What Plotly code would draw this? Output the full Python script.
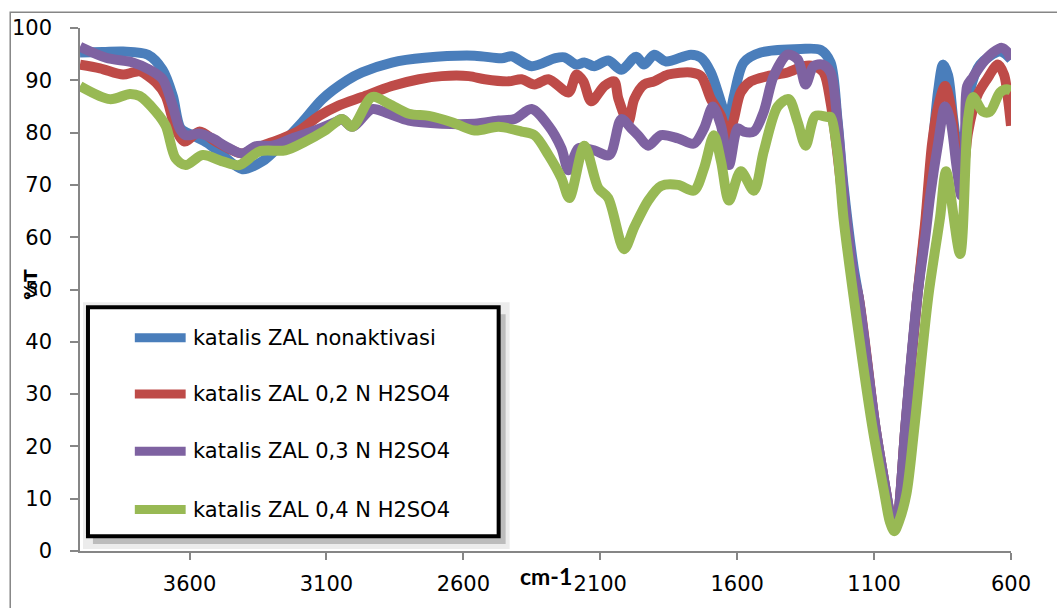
import plotly.graph_objects as go

# ---------------- data (wavenumber cm-1, %T) ----------------
series_names = [
    "katalis ZAL nonaktivasi",
    "katalis ZAL 0,2 N H2SO4",
    "katalis ZAL 0,3 N H2SO4",
    "katalis ZAL 0,4 N H2SO4",
]
series_colors = ["#4A7EBB", "#BE4B48", "#7E62A1", "#98B954"]

wn_blue = [4000, 3916, 3843, 3752, 3698, 3661, 3632, 3589, 3534, 3479, 3407, 3334, 3261, 3188,
           3115, 3024, 2970, 2861, 2741, 2559, 2460, 2424, 2351, 2267, 2231, 2187, 2158, 2122,
           2071, 2023, 1969, 1940, 1903, 1860, 1769, 1732, 1696, 1659, 1634, 1612, 1576, 1514,
           1368, 1295, 1259, 1234, 1212, 1175, 1157, 1095, 1055, 1038, 1026, 1014, 1004, 986,
           942, 913, 895, 866, 848, 830, 811, 786, 768, 750, 713, 640, 600]
t_blue = [95.3, 95.4, 95.5, 94.9, 92.0, 87.0, 80.8, 79.5, 78.0, 75.7, 73.0, 74.5, 78.0, 82.0,
          86.4, 90.0, 91.5, 93.4, 94.3, 94.7, 94.2, 94.6, 92.7, 94.2, 94.4, 93.0, 93.4, 92.7,
          93.8, 92.0, 94.5, 93.0, 94.9, 93.6, 94.9, 94.3, 91.5, 85.8, 82.0, 87.0, 93.4, 95.3,
          96.0, 95.8, 93.4, 82.6, 70.0, 54.3, 48.7, 23.6, 10.9, 6.0, 4.3, 6.0, 10.9, 23.6,
          48.7, 62.0, 72.0, 88.0, 93.0, 91.0, 82.6, 74.0, 80.0, 88.0, 93.0, 95.5, 94.0]

wn_red = [4000, 3927, 3843, 3807, 3782, 3723, 3687, 3651, 3618, 3563, 3505, 3443, 3407, 3334,
          3261, 3199, 3126, 3054, 2970, 2861, 2762, 2679, 2580, 2522, 2435, 2387, 2340, 2289,
          2216, 2187, 2162, 2133, 2085, 2049, 2034, 1998, 1976, 1940, 1903, 1852, 1769, 1732,
          1696, 1659, 1634, 1612, 1587, 1550, 1488, 1416, 1357, 1321, 1285, 1259, 1234, 1212,
          1175, 1157, 1095, 1055, 1038, 1026, 1014, 1004, 986, 942, 913, 888, 866, 841, 820, 800,
          782, 768, 757, 724, 688, 648, 625, 610, 600]
t_red = [93.0, 92.3, 91.1, 91.5, 91.7, 89.6, 87.0, 80.8, 78.3, 80.2, 78.3, 76.6, 76.0, 77.5,
         78.9, 80.4, 83.2, 85.2, 86.8, 88.9, 90.2, 90.8, 90.8, 90.2, 89.8, 90.2, 89.2, 90.2,
         87.7, 91.1, 89.8, 86.0, 88.9, 89.8, 86.5, 82.0, 86.4, 89.2, 89.8, 91.1, 91.5, 90.8,
         86.4, 83.2, 78.9, 82.6, 87.7, 89.8, 90.8, 91.5, 92.7, 92.7, 91.5, 85.8, 76.0, 66.0,
         52.0, 48.7, 23.6, 10.9, 6.0, 4.3, 6.0, 10.9, 23.6, 48.7, 63.0, 78.0, 85.0, 88.9, 85.0, 76.0,
         70.0, 75.0, 80.0, 87.0, 90.2, 93.0, 91.0, 86.0, 81.3]

wn_purple = [4000, 3905, 3807, 3745, 3698, 3661, 3636, 3614, 3563, 3516, 3469, 3407, 3359, 3297,
             3225, 3152, 3068, 3043, 3006, 2933, 2872, 2799, 2679, 2559, 2471, 2413, 2351, 2289,
             2242, 2216, 2180, 2122, 2067, 2023, 1987, 1962, 1925, 1878, 1816, 1758, 1721, 1689,
             1659, 1630, 1598, 1576, 1539, 1503, 1467, 1416, 1379, 1350, 1321, 1288, 1259, 1234,
             1212, 1175, 1157, 1095, 1055, 1038, 1026, 1014, 1004, 986, 942, 913, 895, 866, 841,
             820, 800, 782, 768, 760, 739, 702, 666, 633, 615, 600]
t_purple = [96.4, 94.3, 93.4, 92.0, 90.2, 85.0, 80.8, 79.5, 79.8, 78.9, 77.4, 76.0, 77.4, 77.5,
            78.9, 80.2, 82.0, 82.6, 81.1, 84.5, 83.6, 82.3, 81.7, 81.7, 82.3, 82.6, 84.5, 81.3,
            77.0, 72.8, 77.0, 76.6, 75.7, 82.6, 80.8, 79.5, 77.5, 79.5, 78.9, 77.9, 80.8, 85.0,
            81.3, 73.8, 80.8, 80.2, 80.2, 84.0, 90.8, 94.9, 94.0, 89.2, 92.7, 93.0, 91.5, 82.0,
            69.0, 53.0, 48.7, 23.6, 10.9, 6.0, 4.3, 6.0, 10.9, 23.6, 48.7, 60.0, 68.0, 78.0, 85.0,
            82.0, 74.0, 68.0, 78.0, 88.9, 90.6, 93.4, 95.3, 96.2, 95.5, 94.0]

wn_green = [4000, 3891, 3818, 3782, 3723, 3687, 3651, 3614, 3552, 3479, 3418, 3345, 3250, 3177,
            3105, 3043, 3006, 2933, 2872, 2799, 2726, 2642, 2559, 2471, 2387, 2340, 2289, 2242,
            2213, 2158, 2107, 2071, 2013, 1976, 1925, 1878, 1816, 1758, 1721, 1685, 1659, 1630,
            1587, 1539, 1503, 1452, 1412, 1379, 1350, 1314, 1270, 1259, 1234, 1212, 1175, 1106,
            1062, 1042, 1026, 1010, 982, 953, 902, 859, 837, 786, 757, 739, 702, 677, 640, 615, 600]
t_green = [88.9, 86.4, 87.4, 87.0, 84.0, 81.3, 75.1, 73.8, 75.7, 74.5, 73.8, 76.4, 76.6, 78.3,
           80.4, 82.6, 81.1, 86.8, 85.5, 83.6, 83.2, 82.0, 80.4, 81.1, 80.2, 79.5, 75.7, 71.3,
           67.5, 77.5, 69.4, 67.5, 57.7, 61.9, 67.0, 69.8, 70.0, 68.9, 73.2, 79.5, 74.5, 67.0,
           72.6, 68.9, 76.4, 85.0, 86.4, 82.0, 77.5, 83.2, 83.0, 83.0, 76.4, 63.8, 48.7, 23.6,
           10.9, 5.5, 3.8, 5.5, 10.9, 23.6, 48.7, 63.8, 72.6, 56.8, 82.6, 86.8, 84.0, 84.0, 87.7, 88.3, 88.0]

x_tick_vals = [3600, 3100, 2600, 2100, 1600, 1100, 600]
y_tick_vals = [0, 10, 20, 30, 40, 50, 60, 70, 80, 90, 100]
x_title = "cm-1"
y_title = "%T"

all_x = [wn_blue, wn_red, wn_purple, wn_green]
all_y = [t_blue, t_red, t_purple, t_green]

# ---------------- layout geometry (pixels) ----------------
W, H = 1057, 608
L, R, T, B = 77, 1011, 28, 558
FONT = "DejaVu Sans"
AXC = "#868686"


def px(xp):
    return (xp - L) / (R - L)


def py(yp):
    return (B - yp) / (B - T)


fig = go.Figure()
for name, col, xs, ys in zip(series_names, series_colors, all_x, all_y):
    fig.add_trace(go.Scatter(
        x=xs, y=ys, mode="lines", name=name, showlegend=False,
        line=dict(color=col, width=10, shape="spline", smoothing=0.85),
    ))

shapes = []
# outer chart border
shapes.append(dict(type="rect", xref="paper", yref="paper",
                   x0=px(7), x1=px(1075), y0=py(625), y1=py(12),
                   line=dict(color=AXC, width=1.5), fillcolor="rgba(0,0,0,0)", layer="below"))
# legend shadow
shapes.append(dict(type="rect", xref="paper", yref="paper",
                   x0=px(80), x1=px(508), y0=py(556), y1=py(306),
                   line=dict(width=0), fillcolor="rgba(200,200,200,0.35)"))
shapes.append(dict(type="rect", xref="paper", yref="paper",
                   x0=px(90), x1=px(504), y0=py(551), y1=py(318),
                   line=dict(width=0), fillcolor="rgba(150,150,150,0.55)"))
# legend box
shapes.append(dict(type="rect", xref="paper", yref="paper",
                   x0=px(85), x1=px(497), y0=py(543), y1=py(311),
                   line=dict(color="black", width=4), fillcolor="white"))

annotations = []
legend_rows = [342, 399, 457, 516]
for name, col, yr in zip(series_names, series_colors, legend_rows):
    shapes.append(dict(type="line", xref="paper", yref="paper",
                       x0=px(132), x1=px(183), y0=py(yr), y1=py(yr),
                       line=dict(color=col, width=9)))
    annotations.append(dict(xref="paper", yref="paper", x=px(188), y=py(yr),
                            text=name, showarrow=False, xanchor="left", yanchor="middle",
                            font=dict(family=FONT, size=21, color="black")))

annotations.append(dict(xref="paper", yref="paper", x=px(27), y=py(288), text="<b>" + y_title + "</b>",
                        textangle=-90, showarrow=False, xanchor="center", yanchor="middle",
                        font=dict(family=FONT, size=18, color="black")))
annotations.append(dict(xref="paper", yref="paper", x=px(516), y=py(583), text="<b>" + x_title + "</b>",
                        showarrow=False, xanchor="left", yanchor="middle",
                        font=dict(family="Lato", size=23, color="black")))

fig.update_layout(
    width=W, height=H,
    margin=dict(l=L, r=W - R, t=T, b=H - B, pad=0),
    paper_bgcolor="white", plot_bgcolor="white",
    showlegend=False,
    shapes=shapes, annotations=annotations,
    xaxis=dict(range=[4000, 600], tickvals=x_tick_vals, ticktext=[str(v) for v in x_tick_vals],
               showgrid=False, zeroline=False, showline=True, linecolor=AXC, linewidth=1.5,
               ticks="outside", ticklen=7, tickwidth=1.5, tickcolor=AXC,
               ticklabelstandoff=6,
               tickfont=dict(family=FONT, size=21, color="black")),
    yaxis=dict(range=[0, 100], tickvals=y_tick_vals, showgrid=False, zeroline=False,
               showline=True, linecolor=AXC, linewidth=1.5,
               ticks="outside", ticklen=8, tickwidth=1.5, tickcolor=AXC,
               ticklabelstandoff=14,
               tickfont=dict(family=FONT, size=21, color="black")),
)

fig.write_html(
    "out.html",
    config={"displayModeBar": False},
    post_script="document.body.style.margin='0';document.body.style.padding='0';"
                "document.body.style.overflow='hidden';",
)
